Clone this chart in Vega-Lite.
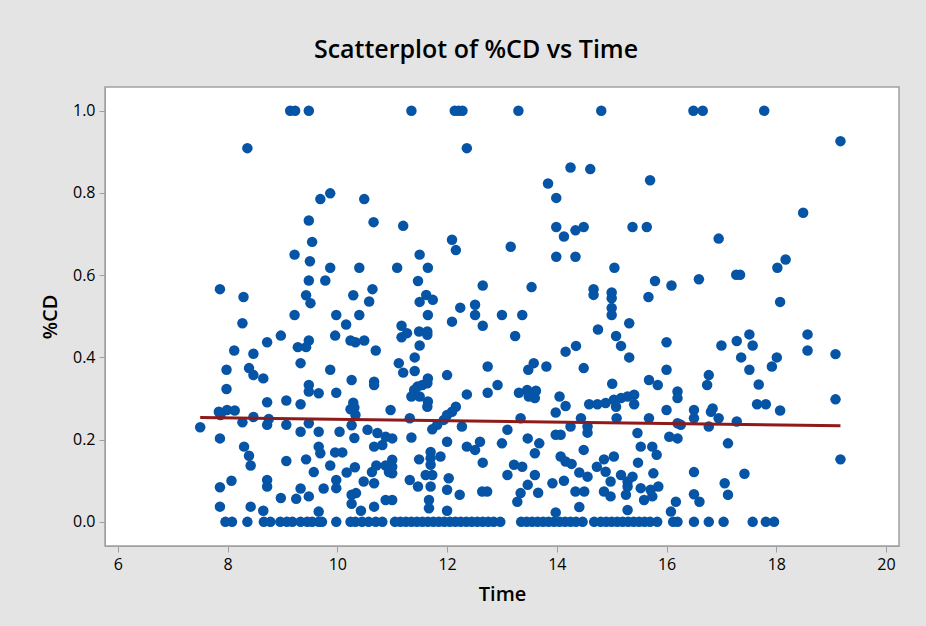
{
"$schema": "https://vega.github.io/schema/vega-lite/v6.json",
"autosize": {"type": "none"},
"width": 794,
"height": 459,
"padding": {"left": 105, "top": 87, "right": 27, "bottom": 80},
"background": "#e4e4e4",
"title": {"text": "Scatterplot of %CD vs Time", "font": "Open Sans", "fontSize": 25, "fontWeight": 600, "color": "#000000", "offset": 24, "dx": -26, "anchor": "middle"},
"config": {
 "view": {"stroke": "#a0a0a0", "strokeWidth": 1.5, "fill": "#ffffff"},
 "axis": {"labelFont": "Open Sans", "labelFontSize": 16, "labelColor": "#000000", "titleFont": "Open Sans", "titleFontSize": 20, "titleFontWeight": 600, "titleColor": "#000000", "grid": false, "domainColor": "#a0a0a0", "tickColor": "#a0a0a0", "tickSize": 6, "labelPadding": 4}
},
"datasets": {
"pts": [
{"Time":9.14,"CD":1.0},{"Time":9.23,"CD":1.0},{"Time":9.48,"CD":1.0},{"Time":8.36,"CD":0.909},{"Time":9.87,"CD":0.799},{"Time":9.69,"CD":0.785},{"Time":10.49,"CD":0.785},{"Time":9.48,"CD":0.733},{"Time":10.66,"CD":0.729},{"Time":9.54,"CD":0.681},{"Time":9.22,"CD":0.65},{"Time":9.5,"CD":0.634},{"Time":9.87,"CD":0.618},{"Time":10.4,"CD":0.618},{"Time":9.48,"CD":0.587},{"Time":9.78,"CD":0.587},{"Time":7.86,"CD":0.566},{"Time":10.64,"CD":0.566},{"Time":8.29,"CD":0.547},{"Time":9.43,"CD":0.551},{"Time":10.29,"CD":0.551},{"Time":9.51,"CD":0.532},{"Time":10.58,"CD":0.536},
{"Time":11.35,"CD":1.0},{"Time":12.14,"CD":1.0},{"Time":12.21,"CD":1.0},{"Time":12.28,"CD":1.0},{"Time":13.3,"CD":1.0},{"Time":14.81,"CD":1.0},{"Time":12.36,"CD":0.909},{"Time":14.25,"CD":0.862},{"Time":14.61,"CD":0.858},{"Time":15.7,"CD":0.831},{"Time":13.84,"CD":0.823},{"Time":13.99,"CD":0.788},{"Time":11.2,"CD":0.72},{"Time":13.99,"CD":0.717},{"Time":14.34,"CD":0.709},{"Time":14.49,"CD":0.717},{"Time":15.38,"CD":0.717},{"Time":15.64,"CD":0.717},{"Time":14.13,"CD":0.694},{"Time":12.09,"CD":0.686},{"Time":12.16,"CD":0.661},{"Time":13.16,"CD":0.669},{"Time":13.99,"CD":0.645},{"Time":14.34,"CD":0.645},{"Time":11.5,"CD":0.65},{"Time":11.09,"CD":0.618},{"Time":11.65,"CD":0.618},{"Time":15.05,"CD":0.618},{"Time":11.47,"CD":0.586},{"Time":12.65,"CD":0.575},{"Time":13.54,"CD":0.571},{"Time":14.67,"CD":0.566},{"Time":14.67,"CD":0.552},{"Time":15.0,"CD":0.558},{"Time":15.0,"CD":0.544},{"Time":15.79,"CD":0.586},{"Time":16.09,"CD":0.575},{"Time":15.67,"CD":0.547},{"Time":11.5,"CD":0.535},{"Time":11.62,"CD":0.552},{"Time":11.74,"CD":0.54},{"Time":12.24,"CD":0.521},{"Time":12.51,"CD":0.528},{"Time":15.0,"CD":0.52},
{"Time":16.49,"CD":1.0},{"Time":16.66,"CD":1.0},{"Time":17.78,"CD":1.0},{"Time":19.17,"CD":0.926},{"Time":18.49,"CD":0.752},{"Time":16.95,"CD":0.689},{"Time":18.17,"CD":0.638},{"Time":18.02,"CD":0.618},{"Time":17.27,"CD":0.601},{"Time":17.34,"CD":0.601},{"Time":16.59,"CD":0.59},{"Time":18.07,"CD":0.535},
{"Time":9.22,"CD":0.503},{"Time":9.98,"CD":0.503},{"Time":10.4,"CD":0.503},{"Time":8.27,"CD":0.483},{"Time":10.16,"CD":0.48},{"Time":8.97,"CD":0.453},{"Time":9.96,"CD":0.453},{"Time":9.48,"CD":0.441},{"Time":9.28,"CD":0.425},{"Time":9.43,"CD":0.425},{"Time":8.72,"CD":0.437},{"Time":10.24,"CD":0.441},{"Time":10.33,"CD":0.437},{"Time":10.49,"CD":0.441},{"Time":8.12,"CD":0.417},{"Time":8.47,"CD":0.409},{"Time":10.7,"CD":0.417},{"Time":9.33,"CD":0.386},{"Time":7.98,"CD":0.37},{"Time":8.39,"CD":0.374},{"Time":8.47,"CD":0.357},{"Time":8.65,"CD":0.349},{"Time":9.87,"CD":0.37},{"Time":10.26,"CD":0.345},{"Time":10.67,"CD":0.341},{"Time":10.67,"CD":0.333},{"Time":7.98,"CD":0.323},{"Time":9.48,"CD":0.333},{"Time":9.48,"CD":0.317},{"Time":9.66,"CD":0.313},{"Time":9.98,"CD":0.314},{"Time":8.72,"CD":0.291},{"Time":9.07,"CD":0.295},{"Time":9.33,"CD":0.286},{"Time":10.29,"CD":0.29},{"Time":10.31,"CD":0.278},{"Time":10.24,"CD":0.274},{"Time":10.33,"CD":0.26},{"Time":10.97,"CD":0.272},{"Time":7.84,"CD":0.268},{"Time":7.87,"CD":0.26},{"Time":7.99,"CD":0.272},{"Time":8.13,"CD":0.271},{"Time":8.27,"CD":0.242},{"Time":8.47,"CD":0.255},{"Time":8.75,"CD":0.25},{"Time":8.72,"CD":0.236},{"Time":9.07,"CD":0.236},{"Time":9.48,"CD":0.24},{"Time":10.26,"CD":0.235},{"Time":7.5,"CD":0.23},{"Time":9.33,"CD":0.219},{"Time":9.66,"CD":0.219},{"Time":10.04,"CD":0.219},{"Time":10.55,"CD":0.224},{"Time":10.73,"CD":0.216},{"Time":7.86,"CD":0.203},{"Time":10.31,"CD":0.204},{"Time":10.88,"CD":0.207},{"Time":8.3,"CD":0.183},{"Time":9.66,"CD":0.183},{"Time":9.69,"CD":0.167},{"Time":9.96,"CD":0.169},{"Time":10.09,"CD":0.169},{"Time":10.67,"CD":0.183},{"Time":10.82,"CD":0.187},{"Time":8.39,"CD":0.161},{"Time":8.42,"CD":0.137},{"Time":9.07,"CD":0.148},{"Time":9.43,"CD":0.152},{"Time":9.87,"CD":0.137},{"Time":10.32,"CD":0.133},{"Time":10.71,"CD":0.137},{"Time":10.88,"CD":0.137},{"Time":9.57,"CD":0.121},{"Time":10.17,"CD":0.12},{"Time":10.63,"CD":0.121},{"Time":10.94,"CD":0.121},{"Time":8.07,"CD":0.1},{"Time":8.72,"CD":0.102},{"Time":8.72,"CD":0.086},{"Time":7.86,"CD":0.084},{"Time":9.33,"CD":0.081},{"Time":9.75,"CD":0.081},{"Time":9.98,"CD":0.102},{"Time":9.98,"CD":0.082},{"Time":10.48,"CD":0.098},{"Time":10.67,"CD":0.094},{"Time":10.26,"CD":0.066},{"Time":10.34,"CD":0.07},{"Time":8.97,"CD":0.058},{"Time":9.25,"CD":0.056},{"Time":9.48,"CD":0.062},{"Time":10.88,"CD":0.053},{"Time":7.86,"CD":0.037},{"Time":8.42,"CD":0.037},{"Time":10.26,"CD":0.044},{"Time":10.67,"CD":0.037},{"Time":8.65,"CD":0.027},{"Time":9.66,"CD":0.025},{"Time":10.43,"CD":0.027},
{"Time":7.96,"CD":0},{"Time":8.08,"CD":0},{"Time":8.36,"CD":0},{"Time":8.66,"CD":0},{"Time":8.78,"CD":0},{"Time":8.96,"CD":0},{"Time":9.08,"CD":0},{"Time":9.18,"CD":0},{"Time":9.33,"CD":0},{"Time":9.45,"CD":0},{"Time":9.54,"CD":0},{"Time":9.66,"CD":0},{"Time":9.72,"CD":0},{"Time":9.98,"CD":0},{"Time":10.24,"CD":0},{"Time":10.33,"CD":0},{"Time":10.45,"CD":0},{"Time":10.57,"CD":0},{"Time":10.7,"CD":0},{"Time":10.82,"CD":0},
{"Time":12.51,"CD":0.503},{"Time":15.0,"CD":0.503},{"Time":11.65,"CD":0.503},{"Time":13.0,"CD":0.503},{"Time":13.37,"CD":0.503},{"Time":11.17,"CD":0.477},{"Time":11.27,"CD":0.459},{"Time":11.17,"CD":0.449},{"Time":11.49,"CD":0.463},{"Time":11.64,"CD":0.463},{"Time":11.64,"CD":0.455},{"Time":12.09,"CD":0.487},{"Time":12.65,"CD":0.477},{"Time":13.24,"CD":0.452},{"Time":14.75,"CD":0.468},{"Time":15.32,"CD":0.483},{"Time":15.08,"CD":0.452},{"Time":15.17,"CD":0.428},{"Time":15.32,"CD":0.4},{"Time":14.16,"CD":0.414},{"Time":14.35,"CD":0.428},{"Time":16.0,"CD":0.437},{"Time":11.5,"CD":0.429},{"Time":11.41,"CD":0.4},{"Time":11.12,"CD":0.386},{"Time":11.2,"CD":0.363},{"Time":11.41,"CD":0.367},{"Time":12.0,"CD":0.357},{"Time":12.74,"CD":0.378},{"Time":13.48,"CD":0.37},{"Time":13.58,"CD":0.386},{"Time":13.81,"CD":0.378},{"Time":14.49,"CD":0.374},{"Time":16.0,"CD":0.37},{"Time":11.65,"CD":0.349},{"Time":11.55,"CD":0.333},{"Time":11.46,"CD":0.329},{"Time":11.4,"CD":0.321},{"Time":11.35,"CD":0.305},{"Time":11.5,"CD":0.305},{"Time":11.64,"CD":0.337},{"Time":12.36,"CD":0.31},{"Time":12.74,"CD":0.314},{"Time":12.92,"CD":0.333},{"Time":13.31,"CD":0.314},{"Time":13.46,"CD":0.321},{"Time":13.62,"CD":0.319},{"Time":13.6,"CD":0.301},{"Time":13.49,"CD":0.305},{"Time":14.05,"CD":0.305},{"Time":14.16,"CD":0.282},{"Time":13.98,"CD":0.266},{"Time":15.01,"CD":0.336},{"Time":14.59,"CD":0.286},{"Time":14.74,"CD":0.286},{"Time":14.89,"CD":0.289},{"Time":15.04,"CD":0.297},{"Time":15.17,"CD":0.301},{"Time":15.29,"CD":0.305},{"Time":15.41,"CD":0.309},{"Time":15.41,"CD":0.286},{"Time":15.08,"CD":0.28},{"Time":15.68,"CD":0.345},{"Time":15.84,"CD":0.333},{"Time":16.2,"CD":0.317},{"Time":16.2,"CD":0.301},{"Time":16.0,"CD":0.272},{"Time":11.65,"CD":0.293},{"Time":11.64,"CD":0.28},{"Time":12.16,"CD":0.28},{"Time":12.09,"CD":0.268},{"Time":12.0,"CD":0.26},{"Time":11.94,"CD":0.248},{"Time":11.32,"CD":0.252},{"Time":11.82,"CD":0.236},{"Time":11.73,"CD":0.225},{"Time":12.27,"CD":0.232},{"Time":13.34,"CD":0.252},{"Time":13.1,"CD":0.224},{"Time":14.44,"CD":0.252},{"Time":14.56,"CD":0.232},{"Time":14.56,"CD":0.217},{"Time":14.25,"CD":0.232},{"Time":15.09,"CD":0.252},{"Time":15.68,"CD":0.252},{"Time":16.2,"CD":0.24},{"Time":11.0,"CD":0.203},{"Time":11.35,"CD":0.205},{"Time":12.0,"CD":0.195},{"Time":12.36,"CD":0.183},{"Time":12.51,"CD":0.175},{"Time":12.6,"CD":0.195},{"Time":13.0,"CD":0.191},{"Time":13.47,"CD":0.203},{"Time":13.68,"CD":0.191},{"Time":13.6,"CD":0.167},{"Time":13.98,"CD":0.212},{"Time":14.07,"CD":0.212},{"Time":14.49,"CD":0.175},{"Time":15.47,"CD":0.216},{"Time":15.53,"CD":0.183},{"Time":15.74,"CD":0.183},{"Time":15.82,"CD":0.163},{"Time":16.05,"CD":0.207},{"Time":16.2,"CD":0.203},{"Time":11.0,"CD":0.151},{"Time":11.0,"CD":0.134},{"Time":11.0,"CD":0.118},{"Time":11.49,"CD":0.152},{"Time":11.7,"CD":0.17},{"Time":11.7,"CD":0.155},{"Time":11.7,"CD":0.139},{"Time":11.88,"CD":0.159},{"Time":11.61,"CD":0.114},{"Time":11.73,"CD":0.114},{"Time":11.7,"CD":0.086},{"Time":11.32,"CD":0.102},{"Time":11.47,"CD":0.086},{"Time":12.03,"CD":0.106},{"Time":12.0,"CD":0.078},{"Time":12.23,"CD":0.066},{"Time":12.65,"CD":0.144},{"Time":12.64,"CD":0.074},{"Time":12.73,"CD":0.074},{"Time":13.1,"CD":0.114},{"Time":13.22,"CD":0.139},{"Time":13.37,"CD":0.134},{"Time":13.6,"CD":0.114},{"Time":13.47,"CD":0.09},{"Time":13.34,"CD":0.07},{"Time":13.28,"CD":0.049},{"Time":13.66,"CD":0.071},{"Time":14.07,"CD":0.159},{"Time":14.16,"CD":0.147},{"Time":14.27,"CD":0.141},{"Time":13.92,"CD":0.094},{"Time":14.13,"CD":0.1},{"Time":14.41,"CD":0.12},{"Time":14.56,"CD":0.11},{"Time":14.34,"CD":0.074},{"Time":14.5,"CD":0.074},{"Time":14.41,"CD":0.036},{"Time":14.73,"CD":0.134},{"Time":14.86,"CD":0.152},{"Time":15.04,"CD":0.159},{"Time":14.89,"CD":0.122},{"Time":14.98,"CD":0.098},{"Time":14.86,"CD":0.074},{"Time":14.98,"CD":0.062},{"Time":15.17,"CD":0.114},{"Time":15.29,"CD":0.098},{"Time":15.38,"CD":0.11},{"Time":15.29,"CD":0.086},{"Time":15.26,"CD":0.066},{"Time":15.48,"CD":0.144},{"Time":15.76,"CD":0.118},{"Time":15.53,"CD":0.082},{"Time":15.71,"CD":0.078},{"Time":15.85,"CD":0.086},{"Time":15.59,"CD":0.053},{"Time":15.74,"CD":0.062},{"Time":15.29,"CD":0.029},{"Time":16.17,"CD":0.049},{"Time":16.08,"CD":0.025},{"Time":13.98,"CD":0.023},{"Time":12.0,"CD":0.027},{"Time":11.67,"CD":0.053},{"Time":11.67,"CD":0.033},{"Time":11.0,"CD":0.053},
{"Time":11.05,"CD":0},{"Time":11.15,"CD":0},{"Time":11.25,"CD":0},{"Time":11.35,"CD":0},{"Time":11.45,"CD":0},{"Time":11.55,"CD":0},{"Time":11.65,"CD":0},{"Time":11.75,"CD":0},{"Time":11.85,"CD":0},{"Time":11.95,"CD":0},{"Time":12.05,"CD":0},{"Time":12.15,"CD":0},{"Time":12.25,"CD":0},{"Time":12.35,"CD":0},{"Time":12.45,"CD":0},{"Time":12.55,"CD":0},{"Time":12.65,"CD":0},{"Time":12.75,"CD":0},{"Time":12.85,"CD":0},{"Time":12.97,"CD":0},{"Time":13.35,"CD":0},{"Time":13.45,"CD":0},{"Time":13.55,"CD":0},{"Time":13.65,"CD":0},{"Time":13.75,"CD":0},{"Time":13.85,"CD":0},{"Time":13.95,"CD":0},{"Time":14.05,"CD":0},{"Time":14.15,"CD":0},{"Time":14.25,"CD":0},{"Time":14.35,"CD":0},{"Time":14.47,"CD":0},{"Time":14.68,"CD":0},{"Time":14.8,"CD":0},{"Time":14.9,"CD":0},{"Time":15.0,"CD":0},{"Time":15.1,"CD":0},{"Time":15.2,"CD":0},{"Time":15.3,"CD":0},{"Time":15.4,"CD":0},{"Time":15.5,"CD":0},{"Time":15.6,"CD":0},{"Time":15.7,"CD":0},{"Time":15.83,"CD":0},{"Time":16.12,"CD":0},{"Time":16.2,"CD":0},
{"Time":17.51,"CD":0.456},{"Time":18.57,"CD":0.456},{"Time":17.0,"CD":0.429},{"Time":17.28,"CD":0.44},{"Time":17.57,"CD":0.429},{"Time":18.57,"CD":0.417},{"Time":19.08,"CD":0.408},{"Time":17.36,"CD":0.4},{"Time":18.01,"CD":0.4},{"Time":17.92,"CD":0.378},{"Time":17.51,"CD":0.37},{"Time":16.77,"CD":0.357},{"Time":16.74,"CD":0.333},{"Time":17.68,"CD":0.334},{"Time":17.65,"CD":0.286},{"Time":17.81,"CD":0.286},{"Time":19.08,"CD":0.298},{"Time":18.07,"CD":0.271},{"Time":16.5,"CD":0.272},{"Time":16.5,"CD":0.252},{"Time":16.84,"CD":0.276},{"Time":16.81,"CD":0.268},{"Time":16.95,"CD":0.252},{"Time":16.26,"CD":0.236},{"Time":16.77,"CD":0.232},{"Time":17.28,"CD":0.244},{"Time":17.12,"CD":0.191},{"Time":19.17,"CD":0.152},{"Time":16.5,"CD":0.121},{"Time":17.42,"CD":0.117},{"Time":17.06,"CD":0.094},{"Time":17.12,"CD":0.066},{"Time":16.5,"CD":0.067},{"Time":16.6,"CD":0.049},
{"Time":16.5,"CD":0},{"Time":16.77,"CD":0},{"Time":17.04,"CD":0},{"Time":17.57,"CD":0},{"Time":17.81,"CD":0},{"Time":17.96,"CD":0}
],
"fit": [{"Time":7.5,"CD":0.254},{"Time":19.17,"CD":0.2335}]
},
"layer": [
 {"data": {"name": "pts"}, "mark": {"type": "circle", "size": 110, "color": "#0654a6", "opacity": 1},
  "encoding": {
   "x": {"field": "Time", "type": "quantitative", "scale": {"domain": [5.765, 20.237], "nice": false, "zero": false}, "axis": {"values": [6,8,10,12,14,16,18,20], "format": "d", "title": "Time", "titlePadding": 12}},
   "y": {"field": "CD", "type": "quantitative", "scale": {"domain": [-0.0587, 1.0577], "nice": false, "zero": false}, "axis": {"values": [0,0.2,0.4,0.6,0.8,1.0], "format": ".1f", "title": "%CD", "titlePadding": 12}}
  }},
 {"data": {"name": "fit"}, "mark": {"type": "line", "color": "#8e1a1a", "strokeWidth": 3},
  "encoding": {"x": {"field": "Time", "type": "quantitative"}, "y": {"field": "CD", "type": "quantitative"}}}
]
}
